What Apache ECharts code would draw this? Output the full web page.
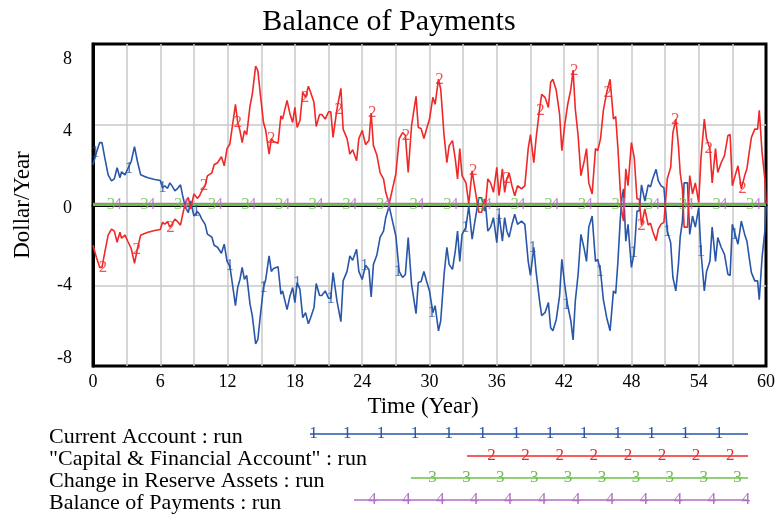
<!DOCTYPE html>
<html><head><meta charset="utf-8">
<script src="https://cdn.jsdelivr.net/npm/echarts@6/dist/echarts.min.js"></script>
<style>html,body{margin:0;padding:0;background:#fff}#c{width:778px;height:518px}</style>
</head><body><div id="c"></div>
<script>
// ---- data (time in years, value in Dollar/Year) ----
const capitalAccount = [[0,-2.0],[0.3,-2.6],[0.6,-3.1],[0.8,-3.1],[1.05,-2.35],[1.35,-1.5],[1.65,-1.2],[1.9,-1.3],[2.15,-1.85],[2.4,-1.35],[2.55,-1.65],[2.85,-1.5],[3.1,-1.8],[3.4,-2.15],[3.7,-2.9],[3.95,-2.2],[4.25,-1.5],[4.6,-1.42],[4.9,-1.35],[5.5,-1.27],[6.0,-1.22],[6.2,-0.86],[6.4,-0.95],[6.65,-0.83],[6.85,-1.1],[7.05,-0.95],[7.3,-0.7],[7.55,-0.83],[7.8,-1.0],[8.0,-0.45],[8.25,0.13],[8.5,0.38],[8.7,-0.2],[9.0,0.55],[9.3,0.33],[9.5,0.46],[9.7,0.7],[10.0,0.96],[10.2,1.45],[10.6,1.6],[10.8,2.0],[11.1,2.1],[11.45,2.4],[11.7,1.95],[11.95,2.8],[12.2,3.03],[12.5,4.2],[12.7,5.0],[12.9,4.1],[13.1,3.7],[13.3,3.1],[13.5,3.7],[13.7,3.5],[14.0,4.93],[14.2,5.5],[14.5,6.9],[14.7,6.67],[14.9,5.6],[15.2,4.1],[15.4,3.7],[15.7,2.53],[15.9,3.3],[16.1,3.15],[16.5,3.07],[16.75,4.43],[16.9,4.27],[17.3,5.2],[17.55,4.55],[17.8,4.1],[18.0,4.85],[18.2,3.85],[18.45,4.2],[18.7,5.6],[18.95,5.35],[19.2,5.9],[19.4,5.6],[19.7,5.1],[19.9,3.9],[20.2,4.5],[20.4,4.5],[20.7,4.27],[21.0,4.63],[21.2,4.63],[21.4,3.36],[21.75,4.76],[22.1,5.8],[22.3,3.77],[22.65,3.3],[22.9,2.53],[23.15,2.75],[23.5,2.2],[23.7,3.3],[24.0,3.7],[24.3,3.0],[24.6,3.2],[24.8,4.57],[25.0,2.95],[25.3,2.5],[25.6,1.6],[25.9,1.3],[26.1,0.63],[26.4,0.05],[26.7,0.8],[27.0,1.54],[27.3,3.3],[27.6,3.6],[27.85,3.45],[28.1,1.62],[28.4,3.94],[28.8,5.4],[29.0,3.85],[29.25,3.8],[29.5,3.3],[29.75,3.8],[30.0,4.27],[30.3,5.35],[30.5,5.0],[30.8,6.25],[31.0,5.75],[31.3,3.45],[31.55,2.1],[31.75,2.95],[32.05,3.2],[32.3,2.28],[32.5,1.3],[32.7,2.8],[32.9,1.46],[33.25,1.1],[33.5,0.05],[33.8,1.7],[34.05,0.8],[34.2,0.3],[34.4,-0.36],[34.65,-0.36],[34.9,0.3],[35.0,0.0],[35.2,1.3],[35.45,1.1],[35.7,0.63],[36.0,1.87],[36.2,0.46],[36.5,1.8],[36.7,0.63],[36.9,1.3],[37.1,1.6],[37.35,0.96],[37.6,0.46],[37.85,0.96],[38.2,0.8],[38.5,0.96],[38.8,2.8],[39.0,3.5],[39.3,2.1],[39.5,3.3],[39.8,4.7],[40.0,5.5],[40.3,5.35],[40.6,4.85],[40.8,6.1],[41.0,6.25],[41.3,5.7],[41.6,4.5],[41.8,2.7],[42.05,3.94],[42.3,4.93],[42.6,5.75],[42.8,6.7],[43.0,4.76],[43.25,3.44],[43.5,1.46],[43.8,2.2],[44.0,2.8],[44.2,1.1],[44.5,0.55],[44.8,2.8],[45.0,2.7],[45.25,3.3],[45.5,4.7],[45.8,5.6],[46.1,6.25],[46.4,4.27],[46.6,4.4],[46.8,2.8],[47.0,0.8],[47.15,-0.36],[47.3,-0.8],[47.5,1.8],[47.7,0.96],[48.0,3.1],[48.25,2.37],[48.5,0.3],[48.7,0.3],[48.9,-1.0],[49.2,-0.2],[49.5,-1.0],[49.7,-0.9],[49.9,-1.3],[50.2,-1.77],[50.4,-1.2],[50.65,-0.95],[50.9,-0.86],[51.05,-0.86],[51.2,1.3],[51.5,1.87],[51.7,3.6],[51.96,4.27],[52.2,2.9],[52.35,1.6],[52.55,0.8],[52.7,-1.1],[53.0,-1.1],[53.2,1.46],[53.45,0.55],[53.7,1.1],[54.0,0.13],[54.2,2.3],[54.5,4.27],[54.7,3.3],[55.0,2.8],[55.2,1.1],[55.5,2.8],[55.7,1.62],[56.0,2.1],[56.3,2.45],[56.6,3.44],[56.8,3.5],[57.0,0.96],[57.25,1.46],[57.5,1.95],[57.8,0.8],[58.1,1.46],[58.3,1.8],[58.5,2.6],[58.7,3.36],[59.0,3.77],[59.25,3.77],[59.4,4.7],[59.65,2.6],[59.9,1.3],[60.0,0.05]];

const currentAccount = [[0,2.0],[0.3,2.6],[0.6,3.1],[0.8,3.1],[1.05,2.35],[1.35,1.5],[1.65,1.2],[1.9,1.3],[2.15,1.85],[2.4,1.35],[2.55,1.65],[2.85,1.5],[3.1,1.8],[3.4,2.15],[3.7,2.9],[3.95,2.2],[4.25,1.5],[4.6,1.42],[4.9,1.35],[5.5,1.27],[6.0,1.22],[6.2,0.86],[6.4,0.95],[6.65,0.83],[6.85,1.1],[7.05,0.95],[7.3,0.7],[7.55,0.83],[7.8,1.0],[8.0,0.45],[8.25,-0.13],[8.5,-0.38],[8.7,0.2],[9.0,-0.55],[9.3,-0.33],[9.5,-0.46],[9.7,-0.7],[10.0,-0.96],[10.2,-1.45],[10.6,-1.6],[10.8,-2.0],[11.1,-2.1],[11.45,-2.4],[11.7,-1.95],[11.95,-2.8],[12.2,-3.03],[12.5,-4.2],[12.7,-5.0],[12.9,-4.1],[13.1,-3.7],[13.3,-3.1],[13.5,-3.7],[13.7,-3.5],[14.0,-4.93],[14.2,-5.5],[14.5,-6.9],[14.7,-6.67],[14.9,-5.6],[15.2,-4.1],[15.4,-3.7],[15.7,-2.53],[15.9,-3.3],[16.1,-3.15],[16.5,-3.07],[16.75,-4.43],[16.9,-4.27],[17.3,-5.2],[17.55,-4.55],[17.8,-4.1],[18.0,-4.85],[18.2,-3.85],[18.45,-4.2],[18.7,-5.6],[18.95,-5.35],[19.2,-5.9],[19.4,-5.6],[19.7,-5.1],[19.9,-3.9],[20.2,-4.5],[20.4,-4.5],[20.7,-4.27],[21.0,-4.63],[21.2,-4.63],[21.4,-3.36],[21.75,-4.76],[22.1,-5.8],[22.3,-3.77],[22.65,-3.3],[22.9,-2.53],[23.15,-2.75],[23.5,-2.2],[23.7,-3.3],[24.0,-3.7],[24.3,-3.0],[24.6,-3.2],[24.8,-4.57],[25.0,-2.95],[25.3,-2.5],[25.6,-1.6],[25.9,-1.3],[26.1,-0.63],[26.4,-0.05],[26.7,-0.8],[27.0,-1.54],[27.3,-3.3],[27.6,-3.6],[27.85,-3.45],[28.1,-1.62],[28.4,-3.94],[28.8,-5.4],[29.0,-3.85],[29.25,-3.8],[29.5,-3.3],[29.75,-3.8],[30.0,-4.27],[30.3,-5.35],[30.5,-5.0],[30.8,-6.25],[31.0,-5.75],[31.3,-3.45],[31.55,-2.1],[31.75,-2.95],[32.05,-3.2],[32.3,-2.28],[32.5,-1.3],[32.7,-2.8],[32.9,-1.46],[33.25,-1.1],[33.5,-0.05],[33.8,-1.7],[34.05,-0.8],[34.2,-0.3],[34.4,0.36],[34.65,0.36],[34.9,-0.3],[35.0,0.0],[35.2,-1.3],[35.45,-1.1],[35.7,-0.63],[36.0,-1.87],[36.2,-0.46],[36.5,-1.8],[36.7,-0.63],[36.9,-1.3],[37.1,-1.6],[37.35,-0.96],[37.6,-0.46],[37.85,-0.96],[38.2,-0.8],[38.5,-0.96],[38.8,-2.8],[39.0,-3.5],[39.3,-2.1],[39.5,-3.3],[39.8,-4.7],[40.0,-5.5],[40.3,-5.35],[40.6,-4.85],[40.8,-6.1],[41.0,-6.25],[41.3,-5.7],[41.6,-4.5],[41.8,-2.7],[42.05,-3.94],[42.3,-4.93],[42.6,-5.75],[42.8,-6.7],[43.0,-4.76],[43.25,-3.44],[43.5,-1.46],[43.8,-2.2],[44.0,-2.8],[44.2,-1.1],[44.5,-0.55],[44.8,-2.8],[45.0,-2.7],[45.25,-3.3],[45.5,-4.7],[45.8,-5.6],[46.1,-6.25],[46.4,-4.27],[46.6,-4.4],[46.8,-2.8],[47.0,-0.8],[47.15,0.36],[47.3,0.8],[47.5,-1.8],[47.7,-0.96],[48.0,-3.1],[48.25,-2.37],[48.5,-0.3],[48.7,-0.3],[48.9,1.0],[49.2,0.2],[49.5,1.0],[49.7,0.9],[49.9,1.3],[50.2,1.77],[50.4,1.2],[50.65,0.95],[50.9,0.86],[51.05,0.86],[51.2,-1.3],[51.5,-1.87],[51.7,-3.6],[51.96,-4.27],[52.2,-2.9],[52.35,-1.6],[52.55,-0.8],[52.7,1.1],[53.0,1.1],[53.2,-1.46],[53.45,-0.55],[53.7,-1.1],[54.0,-0.13],[54.2,-2.3],[54.5,-4.27],[54.7,-3.3],[55.0,-2.8],[55.2,-1.1],[55.5,-2.8],[55.7,-1.62],[56.0,-2.1],[56.3,-2.45],[56.6,-3.44],[56.8,-3.5],[57.0,-0.96],[57.25,-1.46],[57.5,-1.95],[57.8,-0.8],[58.1,-1.46],[58.3,-1.8],[58.5,-2.6],[58.7,-3.36],[59.0,-3.77],[59.25,-3.77],[59.4,-4.7],[59.65,-2.6],[59.9,-1.3],[60.0,-0.05]];

const reserveAssets = [[0,0],[60,0]];
const balanceOfPayments = [[0,0.06],[60,0.06]];

const seriesNames = ['Current Account : run', '"Capital & Financial Account" : run', 'Change in Reserve Assets : run', 'Balance of Payments : run'];
const seriesLabels = ['1','2','3','4'];
const seriesColors = ['#2856a8', '#f02828', '#6cc04a', '#b46ec4'];
const yTicks = [-8, -4, 0, 4, 8];
const xTickLabels = [0, 6, 12, 18, 24, 30, 36, 42, 48, 54, 60];

// ---- rendering ----
const FONT = '"Liberation Serif","Times New Roman",serif';
const chart = echarts.init(document.getElementById('c'), null, {renderer: 'canvas'});

function nearestPoints(data, start, step) {
  const out = [];
  for (let t = start; t <= 60; t += step) {
    let best = data[0], bd = Infinity;
    for (const p of data) { const d = Math.abs(p[0] - t); if (d < bd) { bd = d; best = p; } }
    out.push([t, best[1]]);
  }
  return out;
}
function flatPoints(data, start, step) {
  const out = [];
  for (let t = start; t <= 60; t += step) out.push([t, data[0][1]]);
  return out;
}

const lineData = [currentAccount, capitalAccount, reserveAssets, balanceOfPayments];
const markerData = [
  nearestPoints(currentAccount, 0.2, 3),
  nearestPoints(capitalAccount, 0.9, 3),
  flatPoints(reserveAssets, 1.6, 3),
  flatPoints(reserveAssets, 2.2, 3)
];
const zOrder = [3, 4, 2, 1];
const widths = [1.6, 1.6, 2, 2];

const series = [];
lineData.forEach((d, i) => {
  series.push({
    type: 'line', name: seriesNames[i], data: d, showSymbol: false, symbol: 'none',
    lineStyle: {color: seriesColors[i], width: widths[i]}, z: zOrder[i], animation: false, silent: true
  });
  series.push({
    type: 'scatter', data: markerData[i], symbol: 'circle', symbolSize: 1,
    itemStyle: {color: 'transparent'}, z: zOrder[i] + 10, animation: false, silent: true,
    label: {show: true, position: 'inside', formatter: seriesLabels[i], color: seriesColors[i],
            fontFamily: FONT, fontSize: 17}
  });
});

// legend built with graphic elements
const legendRows = [
  {y: 437, x0: 310, x1: 748, m0: 313.5, step: 33.8, n: 13},
  {y: 459, x0: 467, x1: 748, m0: 491.5, step: 34.1, n: 8},
  {y: 481, x0: 411, x1: 748, m0: 432.5, step: 33.9, n: 10},
  {y: 503, x0: 354, x1: 748, m0: 372.5, step: 33.95, n: 12}
];
const graphic = [];
legendRows.forEach((r, i) => {
  graphic.push({type: 'text', x: 49, y: r.y, style: {text: seriesNames[i], font: '22px ' + FONT, fill: '#000', verticalAlign: 'middle'}});
  graphic.push({type: 'line', shape: {x1: r.x0, y1: r.y - 3, x2: r.x1, y2: r.y - 3}, style: {stroke: seriesColors[i], lineWidth: 1.5}});
  for (let k = 0; k < r.n; k++) {
    graphic.push({type: 'text', x: r.m0 + k * r.step, y: r.y - 3,
      style: {text: seriesLabels[i], font: '17px ' + FONT, fill: seriesColors[i], align: 'center', verticalAlign: 'middle'}});
  }
});

const yRich = {
  t: {fontFamily: FONT, fontSize: 18, color: '#000', padding: [30, 0, 0, 0]},
  f: {fontFamily: FONT, fontSize: 18, color: '#000', padding: [14, 0, 0, 0]},
  z: {fontFamily: FONT, fontSize: 18, color: '#000', padding: [6, 0, 0, 0]},
  b: {fontFamily: FONT, fontSize: 18, color: '#000', padding: [0, 0, 16, 0]}
};
const yClass = {'8': 't', '4': 'f', '0': 'z', '-8': 'b'};

chart.setOption({
  backgroundColor: '#fff',
  animation: false,
  title: {text: 'Balance of Payments', left: 'center', top: 2,
          textStyle: {fontFamily: FONT, fontSize: 30, fontWeight: 'normal', color: '#000'}},
  grid: {left: 93, right: 12, top: 44, bottom: 152, show: true, borderColor: '#000', borderWidth: 3},
  xAxis: {
    type: 'value', min: 0, max: 60, interval: 3,
    name: 'Time (Year)', nameLocation: 'middle', nameGap: 28,
    nameTextStyle: {fontFamily: FONT, fontSize: 23, color: '#000', padding: [0, 13, 0, 0]},
    axisLine: {show: true, lineStyle: {color: '#000', width: 3}},
    axisTick: {show: false},
    axisLabel: {margin: 7, fontFamily: FONT, fontSize: 18, color: '#000',
      formatter: v => xTickLabels.indexOf(v) >= 0 ? String(v) : ''},
    splitLine: {show: true, showMinLine: false, showMaxLine: false, lineStyle: {color: '#c8c8c8', width: 1.5}}
  },
  yAxis: {
    type: 'value', min: -8, max: 8, interval: 4,
    name: 'Dollar/Year', nameLocation: 'middle', nameGap: 59, nameRotate: 90,
    nameTextStyle: {fontFamily: FONT, fontSize: 23, color: '#000'},
    axisLine: {show: true, lineStyle: {color: '#000', width: 3}},
    axisTick: {show: false},
    axisLabel: {margin: 21, fontFamily: FONT, fontSize: 18, color: '#000',
      formatter: v => yTicks.indexOf(v) < 0 ? '' : (yClass[String(v)] ? '{' + yClass[String(v)] + '|' + v + '}' : String(v)),
      rich: yRich},
    splitLine: {show: true, showMinLine: false, showMaxLine: false, lineStyle: {color: '#c8c8c8', width: 1.5}}
  },
  series: series,
  graphic: graphic
});
</script>
</body></html>
